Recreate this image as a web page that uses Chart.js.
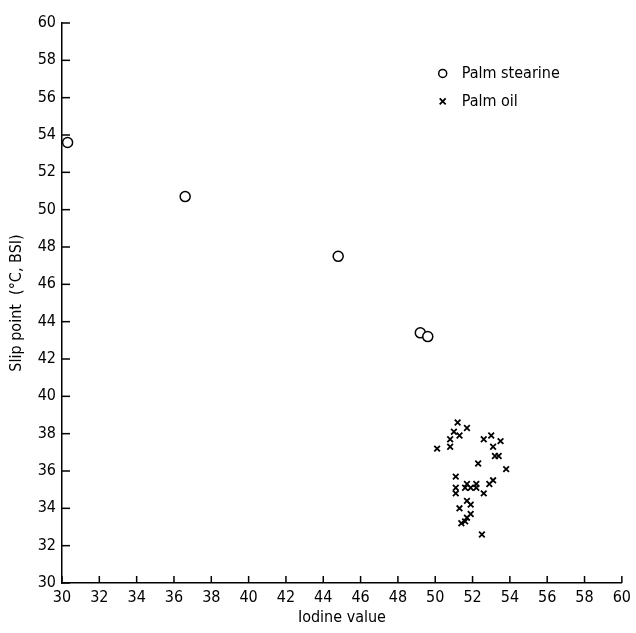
<!DOCTYPE html>
<html>
<head>
<meta charset="utf-8">
<script src="https://cdn.jsdelivr.net/npm/chart.js@4/dist/chart.umd.min.js"></script>
<style>
  html, body { margin: 0; padding: 0; background: #fff; }
  #wrap { width: 636px; height: 633px; }
</style>
</head>
<body>
<div id="wrap"><canvas id="slipChart" width="636" height="633"></canvas></div>
<script>
// Palm stearine (iodine value, slip point)
const stearineIodine = [30.3, 36.6, 44.8, 49.2, 49.6];
const stearineSlip = [53.6, 50.7, 47.5, 43.4, 43.2];

// Palm oil (iodine value, slip point)
const oilIodine = [51.2, 51.7, 51.0, 51.3, 50.8, 50.8, 50.1, 52.6, 53.0, 53.5,
  53.1, 53.2, 53.4, 52.3, 53.8, 51.1, 51.7, 52.2, 53.1, 52.9,
  51.6, 51.9, 52.2, 51.1, 51.1, 52.6, 51.7, 51.9, 51.3, 51.9,
  51.7, 51.4, 51.6, 52.5];
const oilSlip = [38.6, 38.3, 38.1, 37.9, 37.7, 37.3, 37.2, 37.7, 37.9, 37.6,
  37.3, 36.8, 36.8, 36.4, 36.1, 35.7, 35.3, 35.3, 35.5, 35.3,
  35.1, 35.1, 35.1, 35.1, 34.8, 34.8, 34.4, 34.2, 34.0, 33.7,
  33.5, 33.2, 33.3, 32.6];

const xTicks = [30, 32, 34, 36, 38, 40, 42, 44, 46, 48, 50, 52, 54, 56, 58, 60];
const yTicks = [30, 32, 34, 36, 38, 40, 42, 44, 46, 48, 50, 52, 54, 56, 58, 60];

const legendItems = ['Palm stearine', 'Palm oil'];

const FONT = "'DejaVu Sans Condensed', 'DejaVu Sans', sans-serif";

function toPoints(xs, ys) {
  return xs.map((x, i) => ({ x: x, y: ys[i] }));
}

// Draw the short tick marks pointing into the plot, plus the in-plot legend
const inwardTicks = {
  id: 'inwardTicks',
  afterDraw(chart) {
    const ctx = chart.ctx;
    const xs = chart.scales.x;
    const ys = chart.scales.y;
    const area = chart.chartArea;
    ctx.save();
    ctx.strokeStyle = '#000';
    ctx.lineWidth = 1.5;
    xTicks.forEach((v) => {
      const px = xs.getPixelForValue(v);
      ctx.beginPath();
      ctx.moveTo(px, area.bottom);
      ctx.lineTo(px, area.bottom - 7);
      ctx.stroke();
    });
    yTicks.forEach((v) => {
      const py = ys.getPixelForValue(v);
      ctx.beginPath();
      ctx.moveTo(area.left, py);
      ctx.lineTo(area.left + 8, py);
      ctx.stroke();
    });

    // legend
    const lx = xs.getPixelForValue(50.4);
    const ly1 = ys.getPixelForValue(57.3);
    const ly2 = ys.getPixelForValue(55.8);
    ctx.lineWidth = 1.5;
    ctx.beginPath();
    ctx.arc(lx, ly1, 4, 0, Math.PI * 2);
    ctx.stroke();
    ctx.lineWidth = 1.8;
    ctx.beginPath();
    ctx.moveTo(lx - 3, ly2 - 3);
    ctx.lineTo(lx + 3, ly2 + 3);
    ctx.moveTo(lx + 3, ly2 - 3);
    ctx.lineTo(lx - 3, ly2 + 3);
    ctx.stroke();
    ctx.fillStyle = '#000';
    ctx.font = '16px ' + FONT;
    ctx.textBaseline = 'middle';
    ctx.textAlign = 'left';
    ctx.fillText(legendItems[0], lx + 19, ly1);
    ctx.fillText(legendItems[1], lx + 19, ly2);
    ctx.restore();
  }
};

document.addEventListener('DOMContentLoaded', () => {
  const ctx = document.getElementById('slipChart').getContext('2d');
  new Chart(ctx, {
    type: 'scatter',
    data: {
      datasets: [
        {
          label: legendItems[0],
          data: toPoints(stearineIodine, stearineSlip),
          pointStyle: 'circle',
          pointRadius: 5,
          borderColor: '#000',
          backgroundColor: '#fff',
          borderWidth: 1.5,
        },
        {
          label: legendItems[1],
          data: toPoints(oilIodine, oilSlip),
          pointStyle: 'crossRot',
          pointRadius: 4,
          borderColor: '#000',
          backgroundColor: '#000',
          borderWidth: 1.8,
        },
      ],
    },
    options: {
      responsive: false,
      animation: false,
      layout: { padding: { top: 23, right: 0, left: 4, bottom: 0 } },
      plugins: {
        legend: { display: false },
        tooltip: { enabled: false },
      },
      scales: {
        x: {
          type: 'linear',
          min: 30,
          max: 60,
          afterBuildTicks: (scale) => { scale.ticks = xTicks.map((v) => ({ value: v })); },
          afterFit: (scale) => { scale.height = 50; },
          grid: { display: false, drawTicks: false },
          border: { display: true, color: '#000', width: 1.5 },
          ticks: { color: '#000', padding: 5, maxRotation: 0, autoSkip: false, font: { family: FONT, size: 16 } },
          title: { display: true, text: 'Iodine value', color: '#000', padding: { top: 0, bottom: 6 }, font: { family: FONT, size: 16 } },
        },
        y: {
          type: 'linear',
          min: 30,
          max: 60,
          afterBuildTicks: (scale) => { scale.ticks = yTicks.map((v) => ({ value: v })); },
          afterFit: (scale) => { scale.width = 58; },
          grid: { display: false, drawTicks: false },
          border: { display: true, color: '#000', width: 1.5 },
          ticks: { color: '#000', padding: 6, autoSkip: false, font: { family: FONT, size: 16 } },
          title: { display: true, text: 'Slip point  (°C, BSI)', color: '#000', padding: { top: 3, bottom: 2 }, font: { family: FONT, size: 16 } },
        },
      },
    },
    plugins: [inwardTicks],
  });
});
</script>
</body>
</html>
